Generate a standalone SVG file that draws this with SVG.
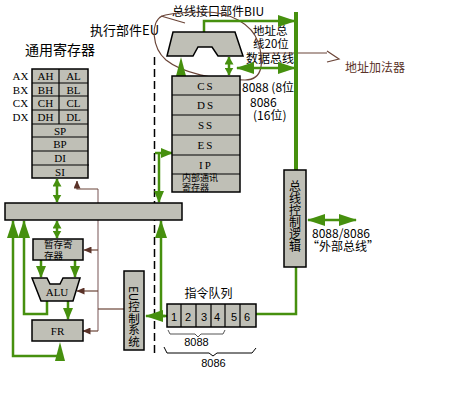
<svg xmlns="http://www.w3.org/2000/svg" width="458" height="419" viewBox="0 0 458 419">
<style>
.box{fill:#bfbfb6;stroke:#000;stroke-width:1.5}
.dv{stroke:#000;stroke-width:1.2;fill:none}
.rt{font-family:"Liberation Serif",serif;font-size:11px;text-anchor:middle;fill:#000}
.cj{font-family:"Noto Sans CJK SC",sans-serif;fill:#000}
.sn{font-family:"Liberation Sans",sans-serif;fill:#000}
.g{stroke:#46900e;fill:none;stroke-width:2.5}
.gf{fill:#46900e}
.br{stroke:#6b4538;fill:none;stroke-width:1.2}
.brl{stroke:#a58c8c;fill:none;stroke-width:1.5}
.vt{writing-mode:vertical-rl}
</style>
<defs>
<marker id="gb" markerUnits="userSpaceOnUse" markerWidth="18" markerHeight="12" refX="17" refY="6" orient="auto-start-reverse" viewBox="0 0 18 12"><path d="M0,0 L18,6 L0,12 z" fill="#46900e"/></marker>
<marker id="gm" markerUnits="userSpaceOnUse" markerWidth="12" markerHeight="10" refX="11" refY="5" orient="auto-start-reverse" viewBox="0 0 12 10"><path d="M0,0 L12,5 L0,10 z" fill="#46900e"/></marker>
<marker id="gs" markerUnits="userSpaceOnUse" markerWidth="8" markerHeight="9" refX="7.5" refY="4.5" orient="auto-start-reverse" viewBox="0 0 8 9"><path d="M0,0 L8,4.5 L0,9 z" fill="#46900e"/></marker>
<marker id="ba" markerUnits="userSpaceOnUse" markerWidth="8" markerHeight="7" refX="7.5" refY="3.5" orient="auto" viewBox="0 0 8 7"><path d="M0,0 L8,3.5 L0,7 z" fill="#5a3228"/></marker>
</defs>

<g id="labels">
<text class="cj" x="90" y="35" font-size="13">执行部件EU</text>
<text class="cj" x="25" y="55" font-size="14">通用寄存器</text>
<text class="cj" x="172" y="16" font-size="12">总线接口部件BIU</text>
<text class="cj" font-size="11.5"><tspan x="253" y="35">地址总</tspan><tspan x="253" y="48">线20位</tspan></text>
<text class="cj" x="246" y="62.5" font-size="12">数据总线</text>
<text class="cj" x="242" y="92" font-size="12">8088 (8位)</text>
<text class="cj" font-size="12"><tspan x="250" y="107">8086</tspan><tspan x="253" y="120">(16位)</tspan></text>
<text class="cj" x="345" y="72" font-size="12" style="fill:#5a3228">地址加法器</text>
<text class="cj" font-size="12" text-anchor="middle"><tspan x="341" y="238">8088/8086</tspan><tspan x="343" y="251">“外部总线”</tspan></text>
<text class="cj" x="208.5" y="298" font-size="12" text-anchor="middle">指令队列</text>
<text class="sn" x="196.5" y="346" font-size="11" text-anchor="middle">8088</text>
<text class="sn" x="213.5" y="367" font-size="11" text-anchor="middle">8086</text>
</g>

<g id="dashed">
<line x1="154.5" y1="57" x2="154.5" y2="355" stroke="#000" stroke-width="1.5" stroke-dasharray="8,4"/>
</g>

<g id="connectors">
<path class="brl" d="M98,331 V189"/>
<path class="br" d="M98,189 H77 V181" marker-end="url(#ba)"/>
<path class="br" d="M98,250 H84" marker-end="url(#ba)"/>
<path class="br" d="M98,291 H77" marker-end="url(#ba)"/>
<path class="br" d="M98,331 H83" marker-end="url(#ba)"/>
<path class="br" d="M98,309 H124"/>
<path class="br" d="M162,16 C150,22 152,48 166,60 C182,73 215,80 245,80 C264,80 264,60 258,42 C252,24 230,12 205,12 C188,12 172,13 162,16 M161,16 L185,23"/>
<path class="br" d="M258,53 H327 M327,51 L339,59 L327,62"/>
<line x1="296" y1="12" x2="296" y2="170" stroke="#46900e" stroke-width="4"/>
<path class="g" d="M296,267 V314 H256" stroke-width="3.5"/>
<path class="g" d="M204,33 V21 H295" marker-end="url(#gb)"/>
<path class="g" d="M237,68 H295" marker-start="url(#gb)" marker-end="url(#gb)"/>
<path class="g" d="M229,57 V75" stroke-width="2" marker-start="url(#gs)" marker-end="url(#gs)"/>
<polygon class="gf" points="181,57 176,76 186,76"/>
<path class="g" d="M308,220 H356" marker-start="url(#gb)" marker-end="url(#gb)"/>
<path class="g" d="M155,153 H172" marker-end="url(#gm)"/>
<path class="g" d="M159,153 V202" marker-end="url(#gm)"/>
<path class="g" d="M167,316 H161 V221" marker-end="url(#gb)"/>
<path class="g" d="M165,316 H146" marker-end="url(#gb)"/>
<path class="g" d="M57,179 V202" marker-start="url(#gs)" marker-end="url(#gs)"/>
<path class="g" d="M57,221 V238" marker-start="url(#gs)" marker-end="url(#gs)"/>
<path class="g" d="M41,260 V277" marker-end="url(#gm)"/>
<path class="g" d="M75,260 V277" marker-end="url(#gm)"/>
<path class="g" d="M68,301 V319" marker-end="url(#gm)"/>
<path class="g" d="M47,301 V314 H24 V221" stroke-width="3" marker-end="url(#gb)"/>
<path class="g" d="M58,356 H13 V221" marker-end="url(#gb)"/>
<polygon class="gf" points="60,342 55,361 65,361"/>
<path d="M168,330 L170,334 H195 L198,337 L201,334 H223 L225,330" fill="none" stroke="#555" stroke-width="1"/>
<path d="M164,347 L167,353 H209 L213,356 L217,353 H252 L256,348" fill="none" stroke="#000" stroke-width="1"/>
</g>

<g id="bus-bar">
<rect class="box" x="5" y="203" width="177" height="17"/>
</g>

<g id="gp-registers">
<rect class="box" x="32" y="69" width="56" height="109"/>
<path class="dv" d="M32,83H88M32,96H88M32,110H88M32,124H88M32,137H88M32,151H88M32,165H89M59,69V124"/>
<text class="rt" x="45.5" y="80">AH</text><text class="rt" x="73.5" y="80">AL</text>
<text class="rt" x="45.5" y="93.5">BH</text><text class="rt" x="73.5" y="93.5">BL</text>
<text class="rt" x="45.5" y="107">CH</text><text class="rt" x="73.5" y="107">CL</text>
<text class="rt" x="45.5" y="121">DH</text><text class="rt" x="73.5" y="121">DL</text>
<text class="rt" x="60" y="134.5">SP</text>
<text class="rt" x="60" y="148">BP</text>
<text class="rt" x="60" y="162">DI</text>
<text class="rt" x="60" y="175.5">SI</text>
<text class="rt" x="20.5" y="80">AX</text>
<text class="rt" x="20.5" y="93.5">BX</text>
<text class="rt" x="20.5" y="107">CX</text>
<text class="rt" x="20.5" y="121">DX</text>
</g>

<g id="seg-registers">
<rect class="box" x="172" y="76" width="68" height="116"/>
<path class="dv" d="M172,95H240M172,115H240M172,135H240M172,155H240M172,174H240"/>
<text class="rt" x="206" y="89.5" letter-spacing="2">CS</text>
<text class="rt" x="206" y="109" letter-spacing="2">DS</text>
<text class="rt" x="206" y="129" letter-spacing="2">SS</text>
<text class="rt" x="206" y="149" letter-spacing="2">ES</text>
<text class="rt" x="206" y="168.5" letter-spacing="2">IP</text>
<text class="cj" font-size="9"><tspan x="182" y="181">内部通讯</tspan><tspan x="182" y="191">寄存器</tspan></text>
</g>

<g id="adder">
<polygon class="box" points="173,32 235,32 243,56 218,56 212,47 198,47 193,56 167,56"/>
</g>

<g id="temp-reg">
<rect class="box" x="33" y="239" width="50" height="21"/>
<text class="cj" font-size="9.5"><tspan x="44" y="248">暂存寄</tspan><tspan x="44" y="258.5">存器</tspan></text>
</g>

<g id="alu">
<polygon class="box" points="32,278 47,278 50,284 60,284 63,278 80,278 73,301 41,301"/>
<text class="rt" x="57" y="296">ALU</text>
</g>

<g id="fr">
<rect class="box" x="32" y="320" width="51" height="21"/>
<text class="rt" x="57.5" y="334.5">FR</text>
</g>

<g id="eu-control">
<rect class="box" x="124" y="271" width="20" height="79"/>
<text class="cj vt" x="134" y="286" font-size="11.5">EU控制系统</text>
</g>

<g id="bus-control">
<rect class="box" x="284" y="170" width="22" height="97"/>
<text class="cj vt" x="295" y="180" font-size="12">总线控制逻辑</text>
</g>

<g id="queue">
<rect class="box" x="167" y="304" width="89" height="23"/>
<path class="dv" d="M181,304V327M196,304V327M211,304V327M225,304V327M240,304V327"/>
<text class="sn" x="174" y="321" font-size="11" text-anchor="middle">1</text>
<text class="sn" x="188" y="321" font-size="11" text-anchor="middle">2</text>
<text class="sn" x="204" y="321" font-size="11" text-anchor="middle">3</text>
<text class="sn" x="217" y="321" font-size="11" text-anchor="middle">4</text>
<text class="sn" x="234" y="321" font-size="11" text-anchor="middle">5</text>
<text class="sn" x="247" y="321" font-size="11" text-anchor="middle">6</text>
</g>
</svg>
